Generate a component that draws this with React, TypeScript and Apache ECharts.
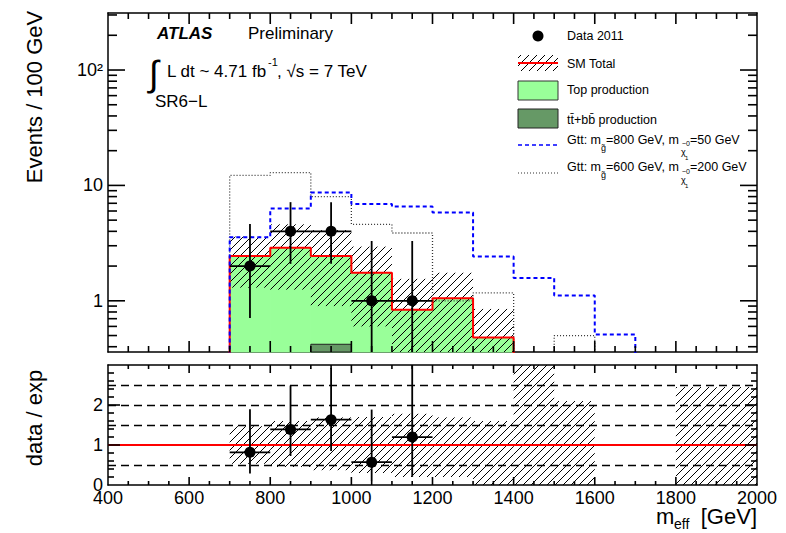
import React, { useEffect, useRef } from 'react';
import * as echarts from 'echarts';

// ---------------- data ----------------
const binLow = [700, 800, 900, 1000, 1100, 1200, 1300, 1400, 1500, 1600, 1700, 1800, 1900];
const binWidth = 100;
const smTotal = [2.45, 2.88, 2.45, 1.75, 0.835, 1.05, 0.48, 0, 0, 0, 0, 0, 0];
const topProduction = [2.45, 2.88, 2.45, 1.75, 0.835, 1.05, 0.48, 0, 0, 0, 0, 0, 0];
const ttbbProduction = [0, 0, 0.42, 0, 0, 0, 0, 0, 0, 0, 0, 0, 0];
const smBandLow = [1.3, 1.25, 0.9, 0.6, 0.2, 0.2, 0.05, null, null, null, null, null, null];
const smBandHigh = [3.6, 4.6, 4.1, 2.95, 1.55, 1.75, 0.85, null, null, null, null, null, null];
const gtt800 = [3.56, 6.3, 8.66, 6.9, 6.55, 5.82, 2.42, 1.58, 1.11, 0.51, 0, 0, 0];
const gtt600 = [12.2, 12.9, 8.0, 4.6, 3.87, 1.0, 1.17, 0, 0.5, 0, 0, 0, 0];
const dataX = [750, 850, 950, 1050, 1150];
const dataY = [2, 4, 4, 1, 1];
const dataErrUp = [2.64, 3.16, 3.16, 2.3, 2.3];
const dataErrDown = [1.29, 1.91, 1.91, 0.83, 0.83];
const ratioBandLow = [0.53, 0.45, 0.37, 0.3, 0.2, 0.2, 0, 0, 0, null, null, 0, 0];
const ratioBandHigh = [1.47, 1.6, 1.69, 1.7, 1.78, 1.69, 1.6, 3.5, 2.1, null, null, 2.45, 2.45];
const ratioDashedLines = [0.5, 1.5, 2, 2.5];
const ratioRefLine = 1;
// tick positions (axis values)
const xMajorTicks = [600, 800, 1000, 1200, 1400, 1600, 1800];
const xMinorTicks = [450, 500, 550, 650, 700, 750, 850, 900, 950, 1050, 1100, 1150, 1250, 1300, 1350, 1450, 1500, 1550, 1650, 1700, 1750, 1850, 1900, 1950];
const logMajorTicks = [1, 10, 100];
const logMinorTicks = [0.4, 0.5, 0.6, 0.7, 0.8, 0.9, 2, 3, 4, 5, 6, 7, 8, 9, 20, 30, 40, 50, 60, 70, 80, 90, 200, 300];
const ratioMajorTicks = [1, 2];
const ratioMinorTicks = [0.2, 0.4, 0.6, 0.8, 1.2, 1.4, 1.6, 1.8, 2.2, 2.4, 2.6, 2.8];

const X_MIN = 400;
const X_MAX = 2000;
const Y_MIN = 0.36;
const Y_MAX = 312;
const LOG_FLOOR = 0.01;
const FONT = '"Liberation Sans", Arial, Helvetica, sans-serif';
const GREEN = '#99ff99';
const DARK_GREEN = '#669966';
const TICK_STYLE = { stroke: '#000', lineWidth: 1.6 };

// ---------------- helpers ----------------
function hatchLines(x0: number, y0: number, x1: number, y1: number, step: number, style: any) {
  const out: any[] = [];
  if (x1 - x0 <= 0 || y1 - y0 <= 0) return out;
  const cStart = Math.ceil((x0 + y0) / step) * step;
  for (let c = cStart; c <= x1 + y1; c += step) {
    const xa = Math.max(x0, c - y1);
    const xb = Math.min(x1, c - y0);
    if (xb - xa > 0.5) {
      out.push({ type: 'line', shape: { x1: xa, y1: c - xa, x2: xb, y2: c - xb }, style });
    }
  }
  return out;
}

function stepData(values: number[]) {
  const pts: number[][] = [];
  const fl = (v: number) => (v > 0 ? v : LOG_FLOOR);
  pts.push([binLow[0], LOG_FLOOR]);
  values.forEach((v, i) => pts.push([binLow[i], fl(v)]));
  const last = binLow[binLow.length - 1] + binWidth;
  pts.push([last, fl(values[values.length - 1])]);
  pts.push([last, LOG_FLOOR]);
  return pts;
}

function histFill(fill: string, stroke: string, lineWidth: number) {
  return (params: any, api: any) => {
    const x0 = api.value(0);
    const v = api.value(1);
    const cs = params.coordSys;
    const p0 = api.coord([x0, v]);
    const p1 = api.coord([x0 + binWidth, Y_MIN]);
    const top = Math.max(p0[1], cs.y);
    const bottom = cs.y + cs.height;
    if (top >= bottom) return null;
    return {
      type: 'rect',
      shape: { x: p0[0], y: top, width: p1[0] - p0[0], height: bottom - top },
      style: { fill, stroke, lineWidth },
    };
  };
}

function hatchItem(isLog: boolean) {
  return (params: any, api: any) => {
    const x0 = api.value(0);
    let lo = api.value(1);
    const hi = api.value(2);
    if (isLog && !(lo > 0)) lo = LOG_FLOOR;
    const cs = params.coordSys;
    const pa = api.coord([x0, hi]);
    const pb = api.coord([x0 + binWidth, lo]);
    const y0 = Math.max(pa[1], cs.y);
    const y1 = Math.min(pb[1], cs.y + cs.height);
    return {
      type: 'group',
      children: hatchLines(pa[0], y0, pb[0], y1, 8, { stroke: '#000', lineWidth: 1 }),
    };
  };
}

function errorBarItem(isLog: boolean) {
  return (params: any, api: any) => {
    const x = api.value(0);
    const y = api.value(1);
    let lo = api.value(2);
    const hi = api.value(3);
    if (isLog && !(lo > 0)) lo = LOG_FLOOR;
    const cs = params.coordSys;
    const c = api.coord([x, y]);
    const l = api.coord([x - binWidth / 2, y]);
    const r = api.coord([x + binWidth / 2, y]);
    const t = api.coord([x, hi]);
    const b = api.coord([x, lo]);
    const top = Math.max(t[1], cs.y);
    const bot = Math.min(b[1], cs.y + cs.height);
    const st = { stroke: '#000', lineWidth: 1.8 };
    return {
      type: 'group',
      children: [
        { type: 'line', shape: { x1: l[0], y1: c[1], x2: r[0], y2: c[1] }, style: st },
        { type: 'line', shape: { x1: c[0], y1: top, x2: c[0], y2: bot }, style: st },
      ],
    };
  };
}

// ticks along the vertical axes: drawn on both the left and right frame edges
function yTickItem(len: number) {
  return (params: any, api: any) => {
    const v = api.value(1);
    const pl = api.coord([X_MIN, v]);
    const pr = api.coord([X_MAX, v]);
    return {
      type: 'group',
      children: [
        { type: 'line', shape: { x1: pl[0], y1: pl[1], x2: pl[0] + len, y2: pl[1] }, style: TICK_STYLE },
        { type: 'line', shape: { x1: pr[0], y1: pr[1], x2: pr[0] - len, y2: pr[1] }, style: TICK_STYLE },
      ],
    };
  };
}

// ticks along the horizontal axes: drawn on both the bottom and top frame edges
function xTickItem(len: number, yLo: number, yHi: number) {
  return (params: any, api: any) => {
    const x = api.value(0);
    const pb = api.coord([x, yLo]);
    const pt = api.coord([x, yHi]);
    return {
      type: 'group',
      children: [
        { type: 'line', shape: { x1: pb[0], y1: pb[1], x2: pb[0], y2: pb[1] - len }, style: TICK_STYLE },
        { type: 'line', shape: { x1: pt[0], y1: pt[1], x2: pt[0], y2: pt[1] + len }, style: TICK_STYLE },
      ],
    };
  };
}

function tickSeries(name: string, axis: number, data: number[][], renderItem: any) {
  return {
    name,
    type: 'custom',
    xAxisIndex: axis,
    yAxisIndex: axis,
    silent: true,
    renderItem,
    encode: { x: 0, y: 1 },
    data,
    z: 8,
  };
}

function xAxisCfg(gridIndex: number, position: string, labels: boolean) {
  return {
    type: 'value',
    gridIndex,
    position,
    min: X_MIN,
    max: X_MAX,
    interval: 200,
    axisLine: { show: true, onZero: false, lineStyle: { color: '#000', width: 1.5 } },
    axisTick: { show: false },
    minorTick: { show: false },
    splitLine: { show: false },
    axisLabel: labels
      ? { show: true, color: '#000', fontSize: 18, fontFamily: FONT, margin: 4, formatter: (v: number) => String(v) }
      : { show: false },
  };
}

function logLabel(v: number) {
  const e = Math.log10(v);
  if (Math.abs(e - Math.round(e)) > 1e-6) return '';
  const n = Math.round(e);
  if (n === 0) return '1';
  if (n === 1) return '10';
  if (n === 2) return '10²';
  return '';
}

function logAxisCfg(position: string, labels: boolean) {
  return {
    type: 'log',
    logBase: 10,
    gridIndex: 0,
    position,
    min: Y_MIN,
    max: Y_MAX,
    axisLine: { show: true, onZero: false, lineStyle: { color: '#000', width: 1.5 } },
    axisTick: { show: false },
    splitLine: { show: false },
    axisLabel: labels
      ? { show: true, color: '#000', fontSize: 18, fontFamily: FONT, margin: 5, showMinLabel: false, showMaxLabel: false, formatter: logLabel }
      : { show: false },
  };
}

function ratioAxisCfg(position: string, labels: boolean) {
  return {
    type: 'value',
    gridIndex: 1,
    position,
    min: 0,
    max: 3,
    interval: 1,
    axisLine: { show: true, onZero: false, lineStyle: { color: '#000', width: 1.5 } },
    axisTick: { show: false },
    minorTick: { show: false },
    splitLine: { show: false },
    axisLabel: labels
      ? { show: true, color: '#000', fontSize: 18, fontFamily: FONT, margin: 5, showMaxLabel: false, formatter: (v: number) => (v >= 3 ? '' : String(v)) }
      : { show: false },
  };
}

function txt(text: string, x: number, y: number, size: number, extra: any = {}, rotation = 0) {
  return {
    type: 'text',
    x,
    y,
    rotation,
    silent: true,
    style: {
      text,
      fontSize: size,
      fontFamily: FONT,
      fill: '#000',
      align: 'left',
      verticalAlign: 'middle',
      textAlign: 'left',
      textVerticalAlign: 'middle',
      ...extra,
    },
  };
}

function buildOption() {
  const fillTop = binLow.map((b, i) => [b, topProduction[i]]).filter((d) => d[1] > 0);
  const fillTtbb = binLow.map((b, i) => [b, ttbbProduction[i]]).filter((d) => d[1] > 0);
  const bandTop = binLow
    .map((b, i) => [b, smBandLow[i], smBandHigh[i]])
    .filter((d) => d[2] != null);
  const bandRatio = binLow
    .map((b, i) => [b, ratioBandLow[i], ratioBandHigh[i]])
    .filter((d) => d[2] != null);
  const smAt = (x: number) => smTotal[binLow.indexOf(x - binWidth / 2)];
  const dataPts = dataX.map((x, i) => [x, dataY[i]]);
  const dataErr = dataX.map((x, i) => [x, dataY[i], dataY[i] - dataErrDown[i], dataY[i] + dataErrUp[i]]);
  const ratioPts = dataX.map((x, i) => [x, dataY[i] / smAt(x)]);
  const ratioErr = dataX.map((x, i) => {
    const s = smAt(x);
    return [x, dataY[i] / s, (dataY[i] - dataErrDown[i]) / s, (dataY[i] + dataErrUp[i]) / s];
  });

  const legendHatch = hatchLines(518, 55, 558, 71, 8, { stroke: '#000', lineWidth: 1 });
  const center = { align: 'center', textAlign: 'center' };

  const graphic: any[] = [
    // axis titles
    txt('Events / 100 GeV', 34, 97, 22, center, Math.PI / 2),
    txt('data / exp', 34, 418, 22, center, Math.PI / 2),
    txt('m', 656, 516, 22),
    txt('eff', 674, 524, 14),
    txt('[GeV]', 757, 516, 22, { align: 'right', textAlign: 'right' }),
    // labels top-left
    txt('ATLAS', 157, 33, 17, { fontWeight: 'bold', fontStyle: 'italic' }),
    txt('Preliminary', 248, 33, 17),
    txt('∫', 149, 73, 36),
    txt('L dt ~ 4.71 fb', 167, 71, 17),
    txt('-1', 268, 62, 11),
    txt(', √s = 7 TeV', 277, 71, 17),
    txt('SR6−L', 155, 101, 17),
    // legend
    { type: 'circle', silent: true, shape: { cx: 538, cy: 36, r: 5.5 }, style: { fill: '#000' } },
    txt('Data 2011', 567, 36, 12.5),
    { type: 'group', silent: true, children: legendHatch },
    { type: 'line', silent: true, shape: { x1: 518, y1: 63, x2: 558, y2: 63 }, style: { stroke: '#ff0000', lineWidth: 2 } },
    txt('SM Total', 567, 64, 12.5),
    { type: 'rect', silent: true, shape: { x: 518, y: 81, width: 40, height: 19 }, style: { fill: GREEN, stroke: '#333', lineWidth: 1 } },
    txt('Top production', 567, 90, 12.5),
    { type: 'rect', silent: true, shape: { x: 518, y: 109, width: 40, height: 19 }, style: { fill: DARK_GREEN, stroke: '#222', lineWidth: 1 } },
    txt('tt̄+bb̄ production', 567, 120, 12.5),
    { type: 'line', silent: true, shape: { x1: 518, y1: 145, x2: 558, y2: 145 }, style: { stroke: '#0000ff', lineWidth: 1.5, lineDash: [4, 3] } },
    txt('Gtt: m', 567, 140, 12.5),
    txt('g̃', 601, 148, 9),
    txt('=800 GeV, m', 606, 140, 12.5),
    txt('~0', 682, 143, 7),
    txt('χ', 681, 152, 9),
    txt('1', 685, 158, 6),
    txt('=50 GeV', 690, 140, 12.5),
    { type: 'line', silent: true, shape: { x1: 518, y1: 173, x2: 558, y2: 173 }, style: { stroke: '#333', lineWidth: 1.2, lineDash: [1, 2] } },
    txt('Gtt: m', 567, 167, 12.5),
    txt('g̃', 601, 175, 9),
    txt('=600 GeV, m', 606, 167, 12.5),
    txt('~0', 682, 171, 7),
    txt('χ', 681, 180, 9),
    txt('1', 685, 186, 6),
    txt('=200 GeV', 690, 167, 12.5),
  ];

  return {
    animation: false,
    backgroundColor: '#ffffff',
    textStyle: { fontFamily: FONT },
    grid: [
      { left: 108, top: 13, width: 649, height: 339 },
      { left: 108, top: 365, width: 649, height: 120 },
    ],
    xAxis: [
      xAxisCfg(0, 'bottom', false),
      xAxisCfg(1, 'bottom', true),
      xAxisCfg(0, 'top', false),
      xAxisCfg(1, 'top', false),
    ],
    yAxis: [logAxisCfg('left', true), ratioAxisCfg('left', true), logAxisCfg('right', false), ratioAxisCfg('right', false)],
    graphic,
    series: [
      {
        name: 'Top production',
        type: 'custom',
        xAxisIndex: 0,
        yAxisIndex: 0,
        silent: true,
        renderItem: histFill(GREEN, GREEN, 1),
        encode: { x: 0, y: 1 },
        data: fillTop,
        z: 1,
      },
      {
        name: 'tt+bb production',
        type: 'custom',
        xAxisIndex: 0,
        yAxisIndex: 0,
        silent: true,
        renderItem: histFill(DARK_GREEN, '#222', 1),
        encode: { x: 0, y: 1 },
        data: fillTtbb,
        z: 2,
      },
      {
        name: 'SM uncertainty',
        type: 'custom',
        xAxisIndex: 0,
        yAxisIndex: 0,
        silent: true,
        renderItem: hatchItem(true),
        encode: { x: 0, y: [1, 2] },
        data: bandTop,
        z: 3,
      },
      {
        name: 'Gtt 600/200',
        type: 'line',
        xAxisIndex: 0,
        yAxisIndex: 0,
        step: 'end',
        symbol: 'none',
        silent: true,
        data: stepData(gtt600),
        lineStyle: { color: '#333', width: 1.3, type: [1, 2] },
        z: 4,
      },
      {
        name: 'SM Total',
        type: 'line',
        xAxisIndex: 0,
        yAxisIndex: 0,
        step: 'end',
        symbol: 'none',
        silent: true,
        data: stepData(smTotal),
        lineStyle: { color: '#ff0000', width: 2 },
        z: 5,
      },
      {
        name: 'Gtt 800/50',
        type: 'line',
        xAxisIndex: 0,
        yAxisIndex: 0,
        step: 'end',
        symbol: 'none',
        silent: true,
        data: stepData(gtt800),
        lineStyle: { color: '#0000ff', width: 2, type: [4, 3] },
        z: 6,
      },
      tickSeries('x major ticks top', 0, xMajorTicks.map((x) => [x, 1]), xTickItem(11, Y_MIN, Y_MAX)),
      tickSeries('x minor ticks top', 0, xMinorTicks.map((x) => [x, 1]), xTickItem(6, Y_MIN, Y_MAX)),
      tickSeries('y major ticks top', 0, logMajorTicks.map((v) => [X_MIN, v]), yTickItem(17)),
      tickSeries('y minor ticks top', 0, logMinorTicks.map((v) => [X_MIN, v]), yTickItem(9)),
      {
        name: 'data errors',
        type: 'custom',
        xAxisIndex: 0,
        yAxisIndex: 0,
        silent: true,
        renderItem: errorBarItem(true),
        encode: { x: 0, y: 1 },
        data: dataErr,
        z: 8,
      },
      {
        name: 'Data 2011',
        type: 'scatter',
        xAxisIndex: 0,
        yAxisIndex: 0,
        silent: true,
        symbol: 'circle',
        symbolSize: 11,
        itemStyle: { color: '#000', opacity: 1 },
        data: dataPts,
        z: 9,
      },
      // ratio panel
      {
        name: 'ratio band',
        type: 'custom',
        xAxisIndex: 1,
        yAxisIndex: 1,
        silent: true,
        renderItem: hatchItem(false),
        encode: { x: 0, y: [1, 2] },
        data: bandRatio,
        z: 3,
      },
      {
        name: 'ratio lines',
        type: 'line',
        xAxisIndex: 1,
        yAxisIndex: 1,
        silent: true,
        data: [],
        markLine: {
          silent: true,
          symbol: 'none',
          label: { show: false },
          animation: false,
          data: [
            ...ratioDashedLines.map((v) => ({ yAxis: v, lineStyle: { color: '#000', width: 1.3, type: [8, 5] } })),
            { yAxis: ratioRefLine, lineStyle: { color: '#ff0000', width: 2, type: 'solid' } },
          ],
        },
        z: 4,
      },
      tickSeries('x major ticks ratio', 1, xMajorTicks.map((x) => [x, 1]), xTickItem(8, 0, 3)),
      tickSeries('x minor ticks ratio', 1, xMinorTicks.map((x) => [x, 1]), xTickItem(4, 0, 3)),
      tickSeries('y major ticks ratio', 1, ratioMajorTicks.map((v) => [X_MIN, v]), yTickItem(12)),
      tickSeries('y minor ticks ratio', 1, ratioMinorTicks.map((v) => [X_MIN, v]), yTickItem(6)),
      {
        name: 'ratio errors',
        type: 'custom',
        xAxisIndex: 1,
        yAxisIndex: 1,
        silent: true,
        renderItem: errorBarItem(false),
        encode: { x: 0, y: 1 },
        data: ratioErr,
        z: 8,
      },
      {
        name: 'ratio',
        type: 'scatter',
        xAxisIndex: 1,
        yAxisIndex: 1,
        silent: true,
        symbol: 'circle',
        symbolSize: 11,
        itemStyle: { color: '#000', opacity: 1 },
        data: ratioPts,
        z: 9,
      },
    ],
  };
}

export default function App() {
  const ref = useRef<HTMLDivElement>(null);
  useEffect(() => {
    if (!ref.current) return;
    const chart = echarts.init(ref.current, undefined, { renderer: 'svg' });
    chart.setOption(buildOption() as any);
    return () => chart.dispose();
  }, []);
  return (
    <div
      ref={ref}
      style={{ position: 'fixed', left: 0, top: 0, width: 786, height: 533, background: '#fff' }}
    />
  );
}
